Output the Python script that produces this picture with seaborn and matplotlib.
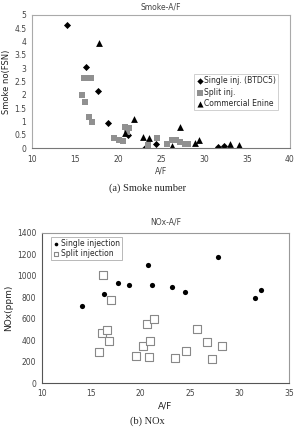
import pandas as pd
import numpy as np
import matplotlib
matplotlib.use("Agg")
import matplotlib.pyplot as plt
import seaborn as sns

# Smoke number vs A/F
single_af = [14.05, 16.27, 17.7, 18.8, 21.15, 23.2, 24.4, 31.6, 32.3]
single_smoke = [4.62, 3.05, 2.15, 0.96, 0.48, 0.0, 0.16, 0.04, 0.06]

split_af = [15.8, 16.2, 16.1, 16.5, 16.9, 16.6, 17.0, 19.5, 20.1, 20.6, 20.8, 21.3,
            21.0, 23.5, 24.6, 25.7, 26.3, 26.7, 27.2, 27.8, 28.2]
split_smoke = [2.01, 1.75, 2.65, 2.65, 2.65, 1.15, 0.97, 0.38, 0.32, 0.27, 0.8, 0.76,
               0.6, 0.1, 0.38, 0.16, 0.32, 0.32, 0.23, 0.14, 0.14]

comm_af = [17.8, 21.9, 20.8, 22.9, 23.6, 26.3, 27.2, 29.0, 29.4, 33.0, 34.1]
comm_smoke = [3.96, 1.11, 0.57, 0.42, 0.38, 0.08, 0.8, 0.19, 0.29, 0.16, 0.1]

# NOx vs A/F
nox_single_af = [14.05, 16.28, 17.66, 18.8, 20.7, 21.13, 23.16, 24.44, 27.8, 31.56, 32.17]
nox_single = [719, 834, 930, 918, 1098, 918, 893, 846, 1173, 793, 865]

nox_split_af = [16.17, 17.0, 15.8, 16.1, 16.6, 16.8, 19.5, 20.2, 20.6, 20.9, 20.8, 21.3,
                23.5, 24.6, 25.7, 26.7, 27.2, 28.2]
nox_split = [1008, 775, 289, 467, 492, 395, 252, 342, 554, 392, 243, 600,
             236, 296, 501, 383, 224, 345]

sns.set_style("white")
plt.rcParams['font.family'] = ['DejaVu Sans']

fig = plt.figure(figsize=(2.95, 4.28), dpi=100)
ax1 = fig.add_axes([0.108, 0.654, 0.875, 0.311])
ax2 = fig.add_axes([0.142, 0.105, 0.838, 0.351])

sns.scatterplot(x=single_af, y=single_smoke, marker='D', s=13, color='black',
                linewidth=0, label='Single inj. (BTDC5)', ax=ax1)
sns.scatterplot(x=split_af, y=split_smoke, marker='s', s=22, color='#909090',
                linewidth=0, label='Split inj.', ax=ax1)
sns.scatterplot(x=comm_af, y=comm_smoke, marker='^', s=24, color='black',
                linewidth=0, label='Commercial Enine', ax=ax1)
ax1.set_xlim(10, 40)
ax1.set_ylim(0, 5)
ax1.set_xticks(range(10, 41, 5))
ax1.set_yticks(np.arange(0, 5.01, 0.5))
ax1.set_yticklabels(['0', '0.5', '1', '1.5', '2', '2.5', '3', '3.5', '4', '4.5', '5'])
ax1.set_xlabel('A/F', fontsize=5.5, color='#444444', labelpad=2)
ax1.set_ylabel('Smoke no(FSN)', fontsize=6, color='#222222', labelpad=2)
ax1.set_title('Smoke-A/F', fontsize=5.5, color='#444444', pad=4)
ax1.tick_params(labelsize=5.5, colors='#444444', length=0)
ax1.tick_params(axis='x', pad=5)
ax1.tick_params(axis='y', pad=4)
leg = ax1.legend(loc='center right', bbox_to_anchor=(0.97, 0.42), fontsize=5.5,
                 frameon=True, fancybox=False, edgecolor='#bbbbbb', handletextpad=0.1,
                 borderpad=0.3, labelspacing=0.3, handlelength=1.0, markerscale=0.9)
leg.get_frame().set_linewidth(0.6)
for s in ax1.spines.values():
    s.set_color('#aaaaaa')
    s.set_linewidth(0.8)
ax1.spines['bottom'].set_color('#777777')

sns.scatterplot(x=nox_single_af, y=nox_single, marker='o', s=14, color='black',
                linewidth=0, label='Single injection', ax=ax2)
sns.scatterplot(x=nox_split_af, y=nox_split, marker='s', s=26, facecolor='white',
                edgecolor='#888888', linewidth=0.8, label='Split injection', ax=ax2)
ax2.set_xlim(10, 35)
ax2.set_ylim(0, 1400)
ax2.set_xticks(range(10, 36, 5))
ax2.set_yticks(range(0, 1401, 200))
ax2.set_xlabel('A/F', fontsize=6.5, color='#222222', labelpad=3)
ax2.set_ylabel('NOx(ppm)', fontsize=6.5, color='#222222', labelpad=3)
ax2.set_title('NOx-A/F', fontsize=5.5, color='#444444', pad=6)
ax2.tick_params(labelsize=5.5, colors='#444444', length=2, pad=2)
leg2 = ax2.legend(loc='upper left', bbox_to_anchor=(0.02, 1.0), fontsize=5.5,
                  frameon=True, fancybox=False, edgecolor='#999999', handletextpad=0.1,
                  borderpad=0.25, labelspacing=0.2, handlelength=1.0, markerscale=0.7)
leg2.get_frame().set_linewidth(0.6)
for s in ax2.spines.values():
    s.set_color('#999999')
    s.set_linewidth(0.8)
ax2.spines['left'].set_color('#555555')
ax2.spines['bottom'].set_color('#555555')

fig.text(0.5, 0.56, '(a) Smoke number', ha='center', va='center',
         fontsize=7.5, family='Liberation Serif')
fig.text(0.5, 0.004, '(b) NOx', ha='center', va='bottom',
         fontsize=7.5, family='Liberation Serif')

fig.savefig('out.png', dpi=100)
